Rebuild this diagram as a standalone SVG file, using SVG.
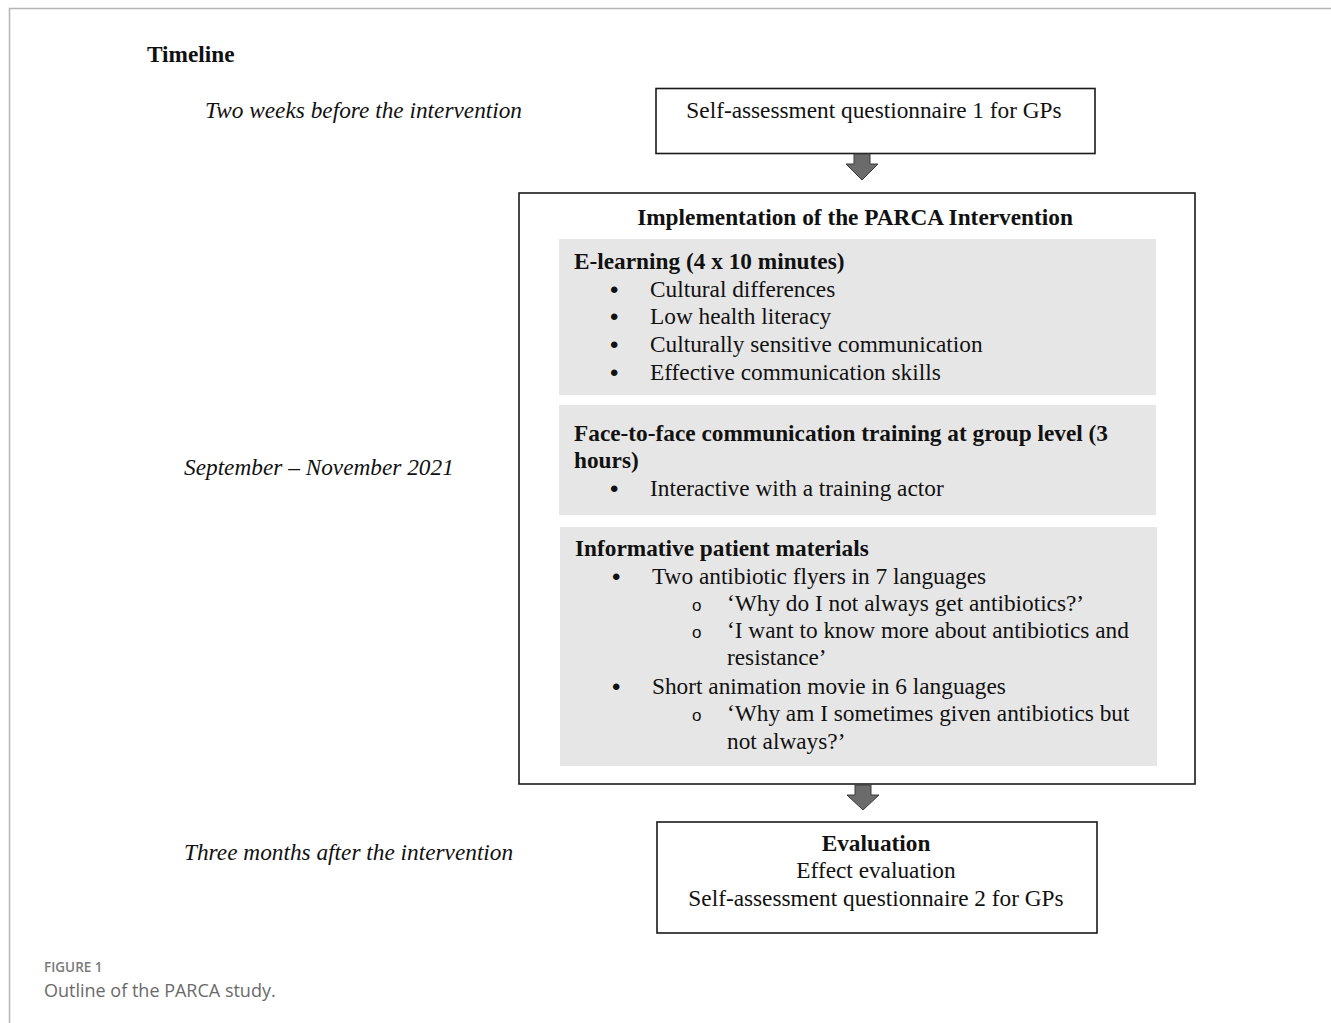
<svg xmlns="http://www.w3.org/2000/svg" width="1331" height="1023" viewBox="0 0 1331 1023">
<style>
.bg{fill:#ffffff}
.frame{fill:none;stroke:#b5b5b5;stroke-width:1.5}
.box{fill:#ffffff;stroke:#1a1a1a;stroke-width:1.6}
.panel{fill:#e7e6e6}
.t{font-family:"Liberation Serif","Times New Roman",serif;font-size:23.3px;fill:#111}
.b{font-weight:bold}
.i{font-style:italic;font-size:23.3px}
.bul{font-family:"Liberation Sans",Arial,sans-serif;font-size:24px;fill:#111}
.o{font-family:"Liberation Sans",Arial,sans-serif;font-size:17px;fill:#111}
.arrow{fill:#6b6b6b;stroke:#3a3a3a;stroke-width:1}
.cap1{font-family:"Open Sans","Noto Sans",sans-serif;font-size:13.5px;font-weight:600;fill:#7a7a7a}
.cap2{font-family:"Open Sans","Noto Sans",sans-serif;font-size:18px;fill:#6a6a6a}
</style>
<rect class="bg" x="0" y="0" width="1331" height="1023"/>
<path class="frame" d="M1331,8.5 H9.5 V1023"/>

<text class="t b" x="147" y="62" font-size="22">Timeline</text>
<text class="t i" x="205" y="118">Two weeks before the intervention</text>
<text class="t i" x="184" y="475">September – November 2021</text>
<text class="t i" x="184" y="860">Three months after the intervention</text>

<g id="node-q1">
<rect class="box" x="656" y="88.5" width="439" height="65"/>
<text class="t" x="874" y="118" text-anchor="middle">Self-assessment questionnaire 1 for GPs</text>
</g>

<g id="node-implementation">
<rect class="box" x="519" y="193" width="676" height="591"/>
<text class="t b" x="855" y="225" text-anchor="middle">Implementation of the PARCA Intervention</text>
</g>

<g id="node-elearning">
<rect class="panel" x="559" y="239" width="597" height="156"/>
<text class="t b" x="574" y="269">E-learning (4 x 10 minutes)</text>
<text class="bul" x="610" y="298">•</text><text class="t" x="650" y="297">Cultural differences</text>
<text class="bul" x="610" y="325">•</text><text class="t" x="650" y="324">Low health literacy</text>
<text class="bul" x="610" y="353">•</text><text class="t" x="650" y="352">Culturally sensitive communication</text>
<text class="bul" x="610" y="381">•</text><text class="t" x="650" y="380">Effective communication skills</text>
</g>

<g id="node-training">
<rect class="panel" x="559" y="405" width="597" height="110"/>
<text class="t b" x="574" y="441">Face-to-face communication training at group level (3</text>
<text class="t b" x="574" y="468">hours)</text>
<text class="bul" x="610" y="497">•</text><text class="t" x="650" y="496">Interactive with a training actor</text>
</g>

<g id="node-materials">
<rect class="panel" x="560" y="527" width="597" height="239"/>
<text class="t b" x="575" y="556">Informative patient materials</text>
<text class="bul" x="612" y="585">•</text><text class="t" x="652" y="584">Two antibiotic flyers in 7 languages</text>
<text class="o" x="692" y="611">o</text><text class="t" x="727" y="611">‘Why do I not always get antibiotics?’</text>
<text class="o" x="692" y="638">o</text><text class="t" x="727" y="638">‘I want to know more about antibiotics and</text>
<text class="t" x="727" y="665">resistance’</text>
<text class="bul" x="612" y="695">•</text><text class="t" x="652" y="694">Short animation movie in 6 languages</text>
<text class="o" x="692" y="721">o</text><text class="t" x="727" y="721">‘Why am I sometimes given antibiotics but</text>
<text class="t" x="727" y="749">not always?’</text>
</g>

<g id="node-evaluation">
<rect class="box" x="657" y="822" width="440" height="111"/>
<text class="t b" x="876" y="851" text-anchor="middle">Evaluation</text>
<text class="t" x="876" y="878" text-anchor="middle">Effect evaluation</text>
<text class="t" x="876" y="906" text-anchor="middle">Self-assessment questionnaire 2 for GPs</text>
</g>

<g id="connectors">
<path class="arrow" d="M854,154 H870 V164 H878 L862,180 L846,164 H854 Z"/>
<path class="arrow" d="M855,785 H871 V795 H879 L863,810 L847,795 H855 Z"/>
</g>

<text class="cap1" x="44" y="972">FIGURE 1</text>
<text class="cap2" x="44" y="997">Outline of the PARCA study.</text>
</svg>
